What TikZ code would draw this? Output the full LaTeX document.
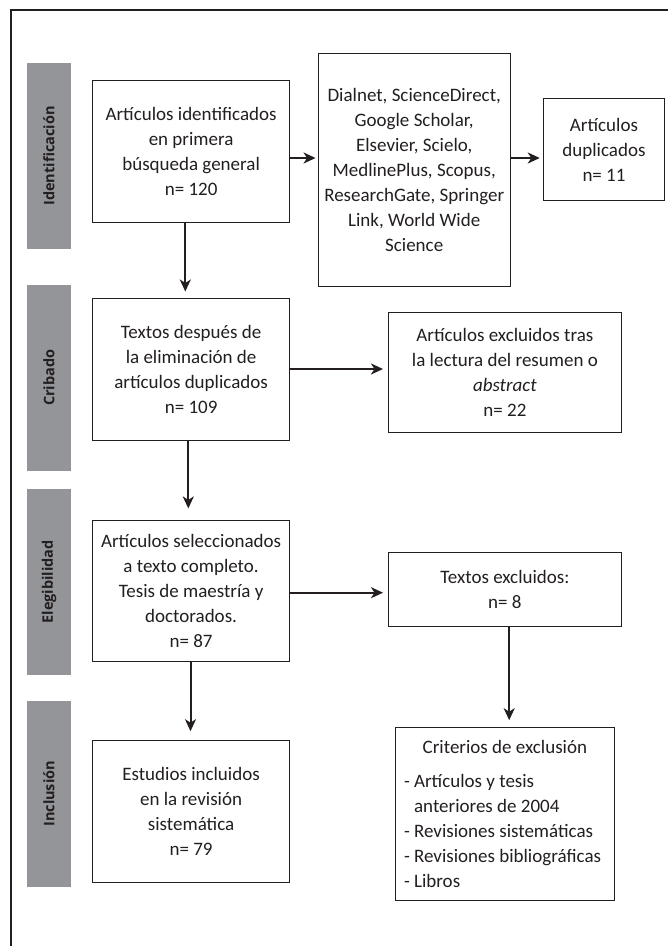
\documentclass[tikz,border=0pt]{standalone}
\usepackage{fontspec}
\setmainfont{Carlito}
\newfontfamily\labelfont{Open Sans}
\usetikzlibrary{arrows.meta}
\definecolor{barfill}{HTML}{939598}
\definecolor{ink}{HTML}{231F20}
\tikzset{
  box/.style={draw=ink, line width=1pt, align=center, inner sep=0pt,
    font=\fontsize{19}{25}\selectfont, text=ink},
  phase/.style={fill=barfill, rotate=90, inner sep=0pt, minimum height=44.4pt,
    font=\labelfont\bfseries\fontsize{14.5}{16}\selectfont, text=ink},
  arr/.style={draw=ink, line width=2pt, -{Stealth[length=12pt,width=11pt,inset=3.5pt]}},
}
\begin{document}
\begin{tikzpicture}[x=1pt,y=-1pt]
\useasboundingbox (0,0) rectangle (668,946);
\fill[white] (0,0) rectangle (668,946);
\draw[line width=2.2pt, ink] (10.6,946) -- (10.6,10) -- (668,10);

% phase bars
\node[phase, minimum width=186pt] (P1) at (49,156) {Identificación};
\node[phase, minimum width=185.7pt] (P2) at (49,377.8) {Cribado};
\node[phase, minimum width=185.7pt] (P3) at (49,581.8) {Elegibilidad};
\node[phase, minimum width=185.7pt] (P4) at (49,793.8) {Inclusión};

% boxes
\node[box, minimum width=197.2pt, minimum height=141.7pt] (A) at (191.1,151.8)
  {Artículos identificados\\en primera\\búsqueda general\\n= 120};
\node[box, minimum width=191.7pt, minimum height=233pt] (B) at (414.2,169.5)
  {Dialnet, ScienceDirect,\\Google Scholar,\\Elsevier, Scielo,\\MedlinePlus, Scopus,\\ResearchGate, Springer\\Link, World Wide\\Science};
\node[box, minimum width=121.5pt, minimum height=102.3pt] (C) at (604,149.8)
  {Artículos\\duplicados\\n= 11};
\node[box, minimum width=197.2pt, minimum height=142pt] (D) at (191.1,369)
  {Textos después de\\la eliminación de\\artículos duplicados\\n= 109};
\node[box, minimum width=233.4pt, minimum height=120pt] (E) at (504.9,372)
  {Artículos excluidos tras\\la lectura del resumen o\\\textit{abstract}\\n= 22};
\node[box, minimum width=197.2pt, minimum height=141.3pt] (F) at (191.1,591.3)
  {Artículos seleccionados\\a texto completo.\\Tesis de maestría y\\doctorados.\\n= 87};
\node[box, minimum width=233.4pt, minimum height=74pt] (G) at (504.9,589.7)
  {Textos excluidos:\\n= 8};
\node[box, minimum width=197.2pt, minimum height=142pt] (H) at (191.1,811)
  {Estudios incluidos\\en la revisión\\sistemática\\n= 79};
\node[box, minimum width=219.8pt, minimum height=173pt, align=left] (I) at (504.9,813.5)
  {\makebox[201.8pt][c]{Criterios de exclusión}\\[9pt]
   - Artículos y tesis\\\phantom{- }anteriores de 2004\\- Revisiones sistemáticas\\- Revisiones bibliográficas\\- Libros};

% arrows
\draw[arr, shorten >=2.3pt] ([yshift=-6.2pt]A.east) -- ([yshift=-6.2pt]A.east -| B.west);
\draw[arr, shorten >=3pt] ([yshift=11.5pt]B.west -| B.east) -- ([yshift=11.5pt]B.east -| C.west);
\draw[arr, shorten >=6pt] ([xshift=-5.8pt]A.south) -- ([xshift=-5.8pt]A.south |- D.north);
\draw[arr, shorten >=4.7pt] (D.east) -- (D.east -| E.west);
\draw[arr, shorten >=11.7pt] ([xshift=-2.8pt]D.south) -- ([xshift=-2.8pt]D.south |- F.north);
\draw[arr, shorten >=4.7pt] ([yshift=-1.4pt]F.east) -- ([yshift=-1.4pt]F.east -| G.west);
\draw[arr, shorten >=8.3pt] ([xshift=-0.6pt]F.south) -- ([xshift=-0.6pt]F.south |- H.north);
\draw[arr, shorten >=6.3pt] ([xshift=4.3pt]G.south) -- ([xshift=4.3pt]G.south |- I.north);
\end{tikzpicture}
\end{document}
